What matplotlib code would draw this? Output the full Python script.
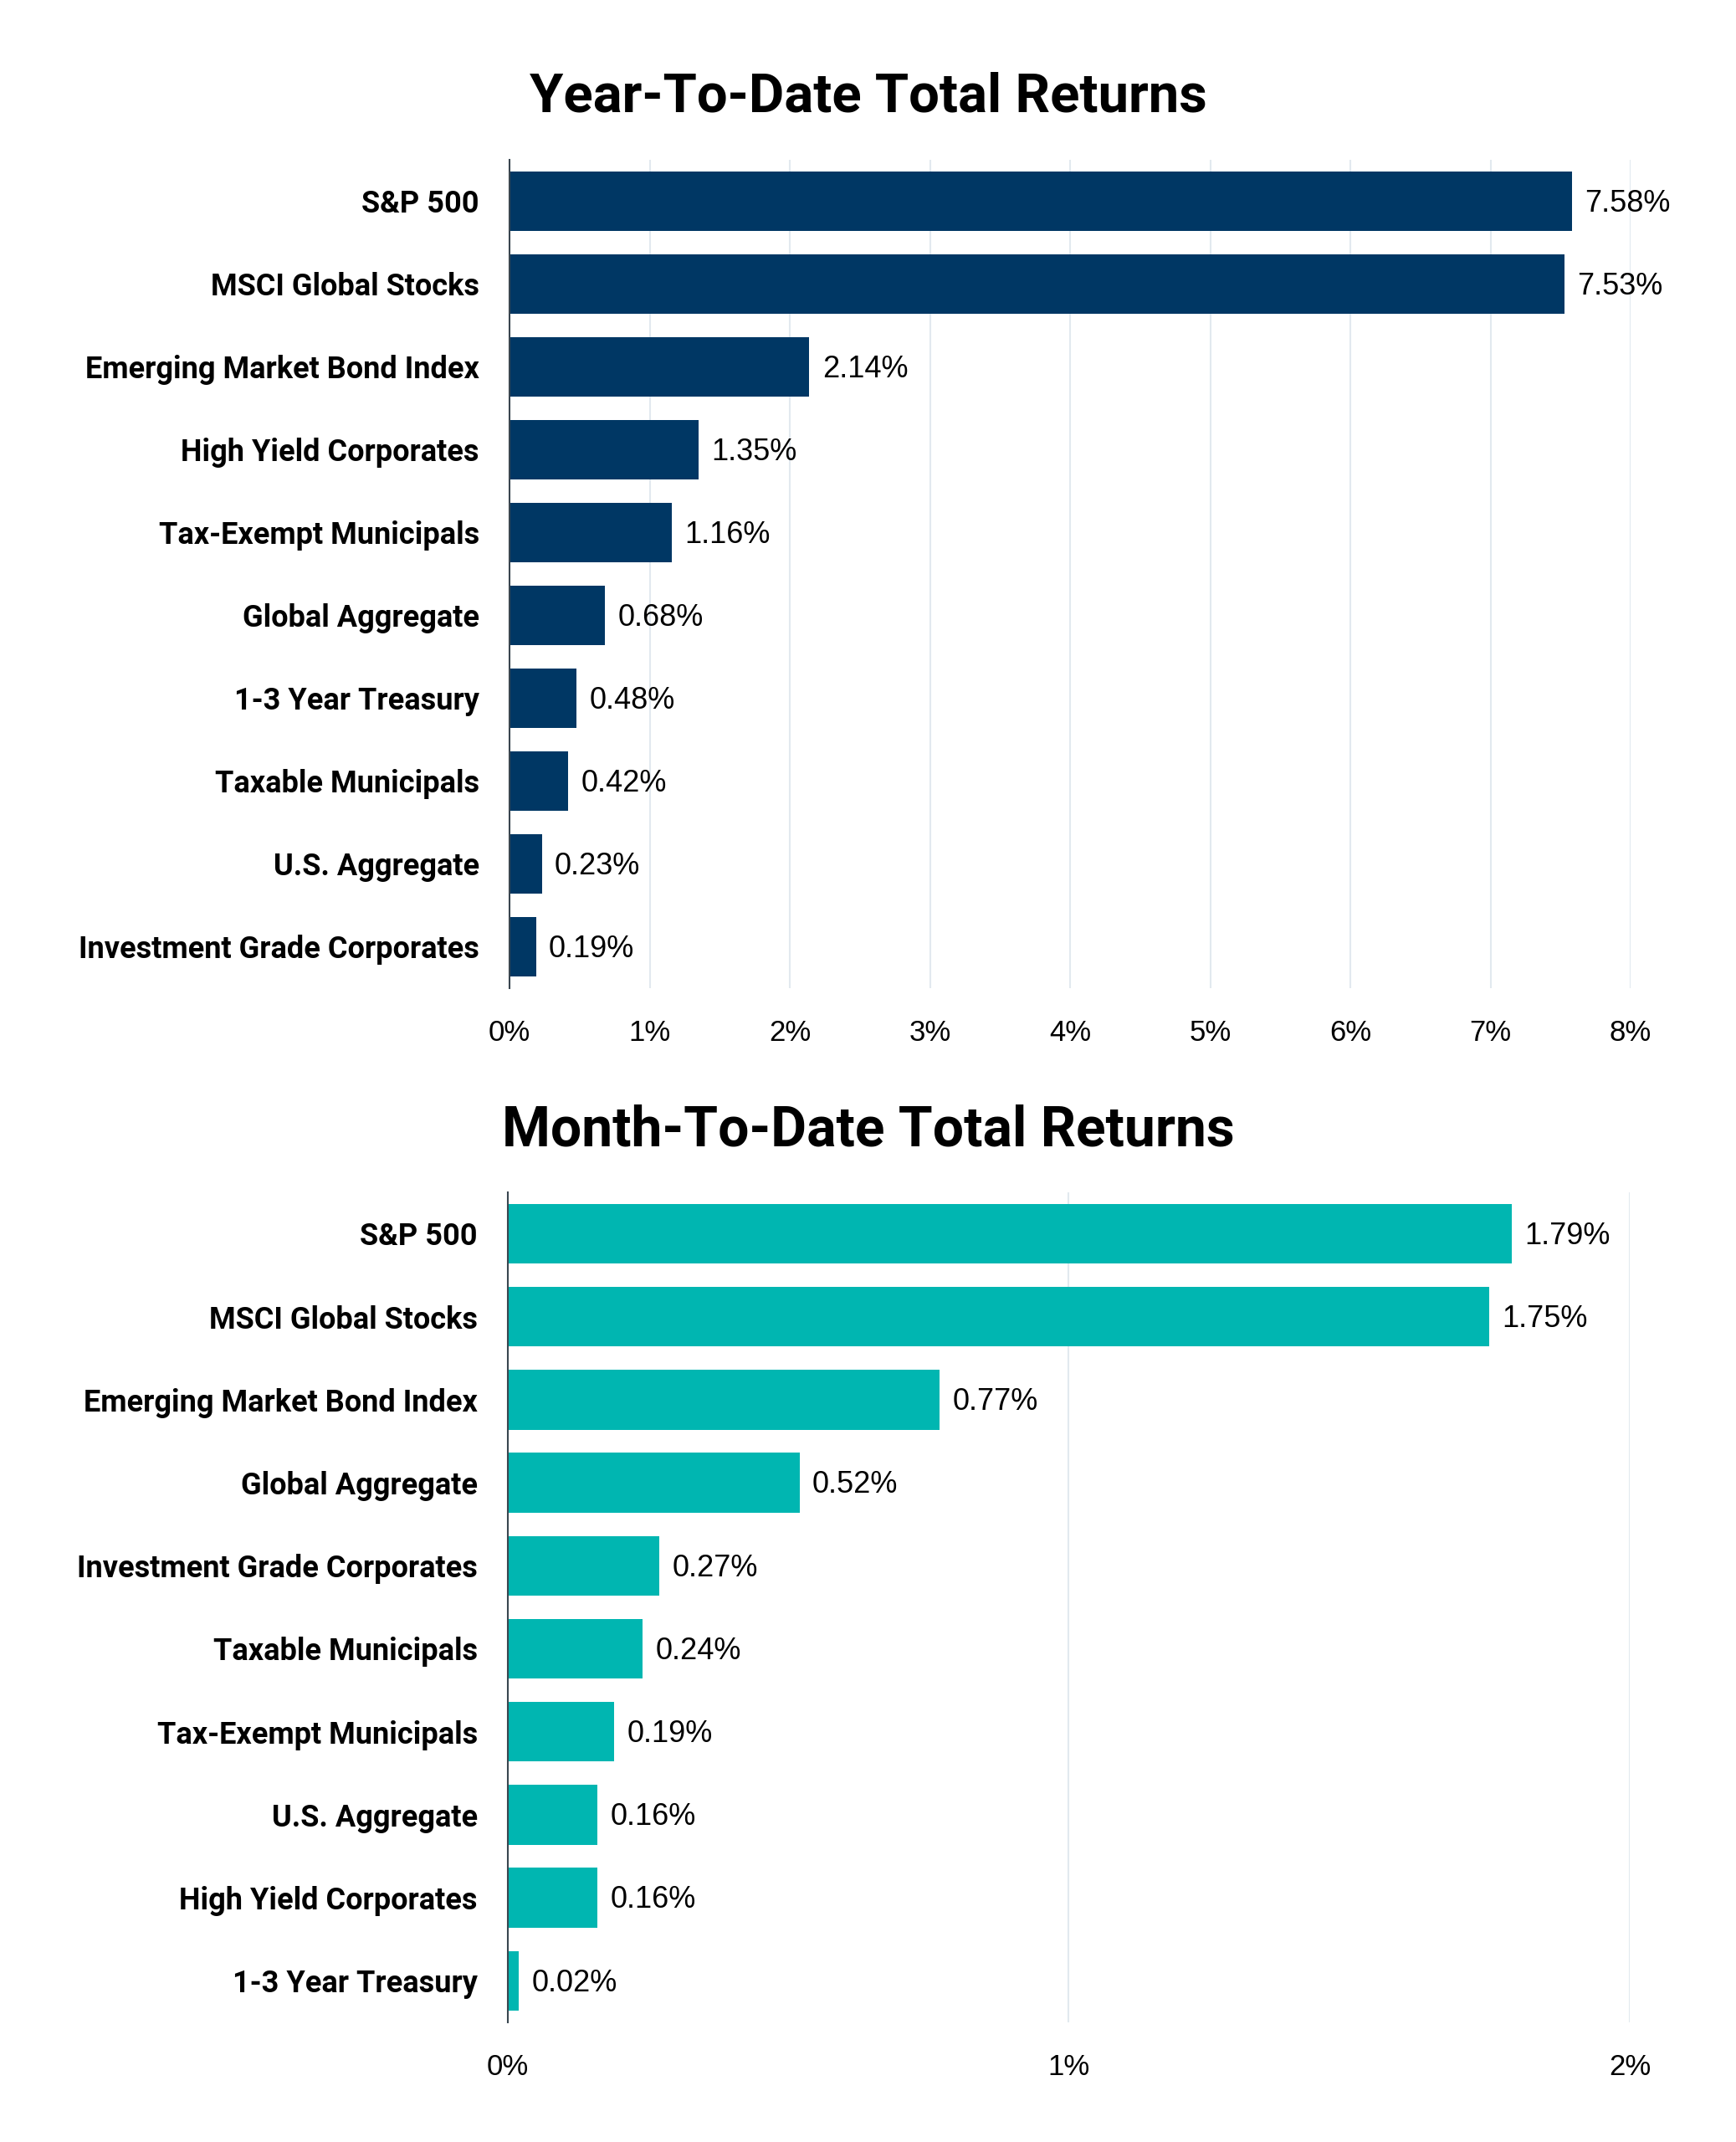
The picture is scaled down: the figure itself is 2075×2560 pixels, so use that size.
import matplotlib
matplotlib.use("Agg")
import matplotlib.pyplot as plt
from matplotlib import font_manager

# year-to-date data
ytd_names = ["S&P 500", "MSCI Global Stocks", "Emerging Market Bond Index",
             "High Yield Corporates", "Tax-Exempt Municipals", "Global Aggregate",
             "1-3 Year Treasury", "Taxable Municipals", "U.S. Aggregate",
             "Investment Grade Corporates"]
ytd_vals = [7.58, 7.53, 2.14, 1.35, 1.16, 0.68, 0.48, 0.42, 0.23, 0.19]
ytd_ticks = [0, 1, 2, 3, 4, 5, 6, 7, 8]

# month-to-date data
mtd_names = ["S&P 500", "MSCI Global Stocks", "Emerging Market Bond Index",
             "Global Aggregate", "Investment Grade Corporates", "Taxable Municipals",
             "Tax-Exempt Municipals", "U.S. Aggregate", "High Yield Corporates",
             "1-3 Year Treasury"]
mtd_vals = [1.79, 1.75, 0.77, 0.52, 0.27, 0.24, 0.19, 0.16, 0.16, 0.02]
mtd_ticks = [0, 1, 2]

names = {f.name for f in font_manager.fontManager.ttflist}
label_font = ["Liberation Sans Narrow", "DejaVu Sans"] if "Liberation Sans Narrow" in names else ["Roboto", "DejaVu Sans"]
value_font = ["Liberation Sans", "DejaVu Sans"]
title_font = ["Roboto", "DejaVu Sans"]

fig = plt.figure(figsize=(20.75, 25.6), dpi=100)

def draw(ax, cats, vals, ticks, color, xmax):
    y = list(range(len(cats)))
    ax.barh(y, vals, height=0.72, color=color, zorder=3)
    ax.set_ylim(len(cats) - 0.5, -0.5)
    ax.set_xlim(0, xmax)
    ax.set_yticks(y)
    ax.set_yticklabels(cats, family=label_font, fontweight="bold", fontsize=26)
    ax.set_xticks(ticks)
    ax.set_xticklabels([f"{t}%" for t in ticks], family=value_font, fontsize=25)
    ax.tick_params(axis="y", length=0, pad=26)
    ax.tick_params(axis="x", length=0, pad=27)
    ax.grid(axis="x", color="#e2e9ef", linewidth=1.5, zorder=0)
    for s in ["top", "right", "bottom"]:
        ax.spines[s].set_visible(False)
    ax.spines["left"].set_color("#3a4650")
    ax.spines["left"].set_linewidth(1.5)
    ax.spines["left"].set_zorder(4)
    for yi, v in zip(y, vals):
        ax.annotate(f"{v:.2f}%", (v, yi), xytext=(11, -2), textcoords="offset points",
                    va="center", ha="left", family=value_font, fontsize=26)

ax1 = fig.add_axes([0.2935, 0.5387, 0.6458, 0.3867])
draw(ax1, ytd_names, ytd_vals, ytd_ticks, "#003764", 8)
fig.text(0.5, 1 - 116 / 2560, "Year-To-Date Total Returns", ha="center", va="center",
         family=title_font, fontweight="bold", fontsize=47)

ax2 = fig.add_axes([0.2925, 0.0559, 0.6463, 0.3875])
draw(ax2, mtd_names, mtd_vals, mtd_ticks, "#00b6b1", 2)
fig.text(0.5, 1 - 1352 / 2560, "Month-To-Date Total Returns", ha="center", va="center",
         family=title_font, fontweight="bold", fontsize=47.5)

fig.savefig("out.png", dpi=100, facecolor="white")
